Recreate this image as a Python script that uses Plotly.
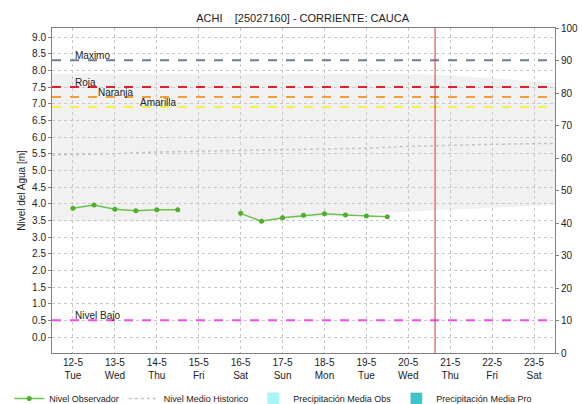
import plotly.graph_objs as go

# observed water level (half-day steps), two separate runs
obs_dates_a = ['2020-05-12 00:00', '2020-05-12 12:00', '2020-05-13 00:00',
               '2020-05-13 12:00', '2020-05-14 00:00', '2020-05-14 12:00']
obs_level_a = [3.86, 3.96, 3.83, 3.79, 3.82, 3.82]
obs_dates_b = ['2020-05-16 00:00', '2020-05-16 12:00', '2020-05-17 00:00',
               '2020-05-17 12:00', '2020-05-18 00:00', '2020-05-18 12:00',
               '2020-05-19 00:00', '2020-05-19 12:00']
obs_level_b = [3.71, 3.47, 3.58, 3.65, 3.70, 3.66, 3.63, 3.61]

# historic series (daily)
hist_dates = ['2020-05-11 12:00', '2020-05-12', '2020-05-13', '2020-05-14', '2020-05-15',
              '2020-05-16', '2020-05-17', '2020-05-18', '2020-05-19', '2020-05-20',
              '2020-05-21', '2020-05-22', '2020-05-23', '2020-05-23 12:00']
hist_mean = [5.46, 5.47, 5.50, 5.55, 5.58, 5.60, 5.62, 5.64, 5.66, 5.72, 5.76, 5.78, 5.80, 5.81]
hist_max = [7.90, 7.90, 7.90, 7.90, 7.90, 7.90, 7.90, 7.90, 7.90, 7.90, 7.85, 7.75, 7.67, 7.63]
hist_min = [3.47, 3.47, 3.47, 3.47, 3.47, 3.46, 3.50, 3.60, 3.70, 3.76, 3.82, 3.87, 3.93, 3.96]

# threshold levels
thresholds = ['Maximo', 'Roja', 'Naranja', 'Amarilla', 'Nivel Bajo']
threshold_values = [8.3, 7.5, 7.2, 6.9, 0.5]
threshold_colors = ['#6e7c98', '#e3202a', '#f0a03a', '#f2f04a', '#ee4eee']
label_dates = ['2020-05-12', '2020-05-12', '2020-05-12 13:00', '2020-05-13 13:00', '2020-05-12']

now_date = '2020-05-20 15:20'

tick_dates = ['2020-05-%02d' % d for d in range(12, 24)]
tick_days = ['Tue', 'Wed', 'Thu', 'Fri', 'Sat', 'Sun', 'Mon', 'Tue', 'Wed', 'Thu', 'Fri', 'Sat']
tick_text = ['%d-5<br>%s' % (d, w) for d, w in zip(range(12, 24), tick_days)]

fig = go.Figure()

fig.add_trace(go.Scatter(x=hist_dates, y=hist_min, mode='lines', line=dict(width=0),
                         showlegend=False, hoverinfo='skip'))
fig.add_trace(go.Scatter(x=hist_dates, y=hist_max, mode='lines', line=dict(width=0),
                         fill='tonexty', fillcolor='rgba(200,200,200,0.25)',
                         showlegend=False, hoverinfo='skip'))

for name, val, col, ld in zip(thresholds, threshold_values, threshold_colors, label_dates):
    fig.add_hline(y=val, line_dash='dash', line_color=col, line_width=2)
    fig.add_annotation(x=ld, y=val, text=name, showarrow=False, xanchor='left',
                       yanchor='bottom', yshift=-3, font=dict(size=10, color='#222'))

fig.add_vline(x=now_date, line_color='#d8343a', line_width=1)

fig.add_trace(go.Scatter(x=obs_dates_a, y=obs_level_a, mode='lines+markers',
                         name='Nivel Observador', legendgroup='obs',
                         line=dict(color='#6cc24a', width=1.5),
                         marker=dict(size=5, color='#4fae2e')))
fig.add_trace(go.Scatter(x=obs_dates_b, y=obs_level_b, mode='lines+markers',
                         name='Nivel Observador', legendgroup='obs', showlegend=False,
                         line=dict(color='#6cc24a', width=1.5),
                         marker=dict(size=5, color='#4fae2e')))
fig.add_trace(go.Scatter(x=hist_dates, y=hist_mean, mode='lines', name='Nivel Medio Historico',
                         line=dict(color='#c4c4c4', width=1.5, dash='dot')))
fig.add_trace(go.Bar(x=[tick_dates[0]], y=[0], name='Precipitación Media Obs',
                     marker_color='#a8f4f8', yaxis='y2'))
fig.add_trace(go.Bar(x=[tick_dates[0]], y=[0], name='Precipitación Media Pro',
                     marker_color='#3cc4c8', yaxis='y2'))

# y-axis title placed by hand so the plot area keeps its left edge
fig.add_annotation(xref='paper', yref='paper', x=-0.076, y=0.5, text='Nivel del Agua [m]',
                   textangle=-90, showarrow=False, font=dict(size=10, color='#222'))

fig.update_layout(
    width=582, height=404,
    title=dict(text='ACHI    [25027160] - CORRIENTE: CAUCA', x=0.52, y=0.965,
               font=dict(size=11, color='#222')),
    font=dict(family='Liberation Sans, Arial, sans-serif', size=10, color='#222'),
    plot_bgcolor='white', paper_bgcolor='white',
    margin=dict(l=52, r=27, t=28, b=51, autoexpand=False),
    showlegend=True,
    legend=dict(orientation='h', x=-0.085, xanchor='left', y=-0.14, yanchor='middle',
                font=dict(size=9), itemwidth=30, tracegroupgap=0),
    xaxis=dict(range=['2020-05-11 12:00', '2020-05-23 12:00'], tickvals=tick_dates,
               ticktext=tick_text, showgrid=True, gridcolor='#c8c8c8', griddash='dot',
               showline=True, linecolor='#808080', mirror=True, ticks='', zeroline=False,
               tickfont=dict(size=10), automargin=False),
    yaxis=dict(range=[-0.48, 9.27], tickvals=[i * 0.5 for i in range(19)], tickformat='.1f',
               showgrid=True, gridcolor='#c8c8c8', griddash='dot', zeroline=False,
               showline=True, linecolor='#808080', mirror=True, ticks='outside',
               ticklen=3, tickcolor='#808080', automargin=False),
    yaxis2=dict(range=[0, 100], dtick=10, overlaying='y', side='right', showgrid=False,
                zeroline=False, ticks='outside', ticklen=3, tickcolor='#808080',
                automargin=False),
)

# the page body has a default 8px margin; drop it so the figure sits at the corner
fig.write_html('out.html', config={'displayModeBar': False},
               post_script="document.body.style.margin='0px';")
